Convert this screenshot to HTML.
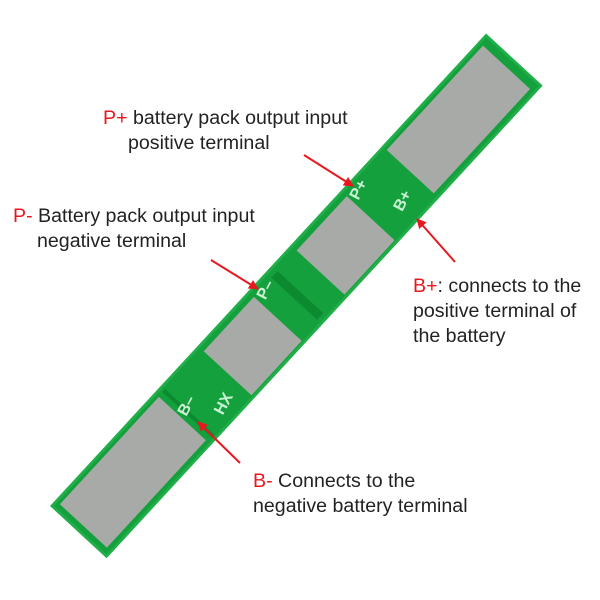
<!DOCTYPE html>
<html><head><meta charset="utf-8"><style>
html,body{margin:0;padding:0;background:#fff;}
svg{display:block;}
text{font-family:"Liberation Sans",sans-serif;}
</style></head><body>
<svg width="600" height="600" viewBox="0 0 600 600" xmlns="http://www.w3.org/2000/svg">
<defs>
<marker id="ah" markerWidth="10" markerHeight="10" refX="9" refY="5" orient="auto" markerUnits="userSpaceOnUse">
<path d="M0,0 L10,5 L0,10 Z" fill="#e8191e"/>
</marker>
</defs>
<g transform="translate(50,506) rotate(-47.3)">
<rect x="0" y="0" width="643" height="77" fill="#1fae47"/>
<rect x="3" y="3" width="637" height="71" fill="#14a03c"/>
<rect x="8" y="6" width="146" height="64" fill="#a7aaa6"/>
<rect x="218" y="8" width="74" height="65" fill="#a7aaa6"/>
<rect x="355" y="8" width="74" height="65" fill="#a7aaa6"/>
<rect x="490" y="6" width="142" height="64" fill="#a7aaa6"/>
<rect x="318" y="8" width="9" height="62" fill="#0c8a30"/>
<rect x="160" y="5" width="4" height="68" fill="#0c8a30"/>
</g>
<g fill="#c9f2d4" font-weight="bold" font-size="16">
<text transform="translate(363,192) rotate(-62)" text-anchor="middle">P+</text>
<text transform="translate(407,203) rotate(-62)" text-anchor="middle">B+</text>
<text transform="translate(270,292) rotate(-62)" text-anchor="middle">P–</text>
<text transform="translate(191,408) rotate(-62)" text-anchor="middle">B–</text>
<text transform="translate(228,406) rotate(-62)" text-anchor="middle">HX</text>
</g>
<g stroke="#e8191e" stroke-width="2" fill="none">
<line x1="304" y1="155" x2="353" y2="186" marker-end="url(#ah)"/>
<line x1="211" y1="260" x2="258" y2="289" marker-end="url(#ah)"/>
<line x1="455" y1="262" x2="417" y2="219" marker-end="url(#ah)"/>
<line x1="240" y1="463" x2="198" y2="422" marker-end="url(#ah)"/>
</g>
<g font-size="19.6" fill="#222">
<text x="103" y="124"><tspan fill="#e8191e">P+</tspan> battery pack output input</text>
<text x="128" y="149">positive terminal</text>
<text x="13" y="222"><tspan fill="#e8191e">P-</tspan> Battery pack output input</text>
<text x="37" y="247">negative terminal</text>
<text x="413" y="292"><tspan fill="#e8191e">B+</tspan>: connects to the</text>
<text x="413" y="317">positive terminal of</text>
<text x="413" y="342">the battery</text>
<text x="253" y="487"><tspan fill="#e8191e">B-</tspan> Connects to the</text>
<text x="253" y="512">negative battery terminal</text>
</g>
</svg>
</body></html>
